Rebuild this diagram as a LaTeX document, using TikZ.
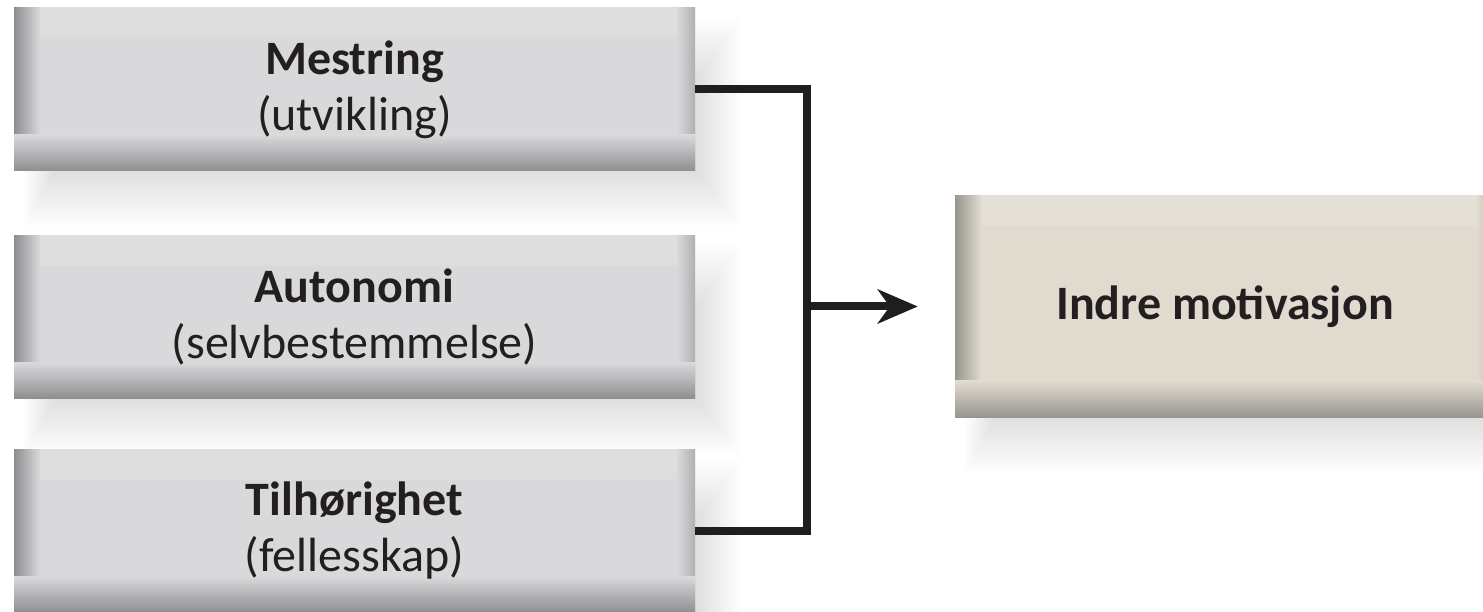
\documentclass[tikz,border=0pt]{standalone}
\usepackage{fontspec}
\setmainfont{Carlito}
\usetikzlibrary{arrows.meta,calc,backgrounds}
\definecolor{boxgray}{HTML}{D9D9DB}
\definecolor{boxgraydark}{HTML}{8E8E90}
\definecolor{boxbeige}{HTML}{E1DBCF}
\definecolor{boxbeigedark}{HTML}{96958F}
\definecolor{linecol}{HTML}{1E1E1E}
\definecolor{textcol}{HTML}{231F20}
\tikzset{
  bevelbox/.style 2 args={
    rectangle, inner sep=0pt, fill=#1, draw=none,
    path picture={
      \shade[top color=white!14!#1, bottom color=#1]
        (path picture bounding box.north west) rectangle ($(path picture bounding box.north east)+(0,-30)$);
      \shade[left color=#2, right color=#1]
        (path picture bounding box.north west) rectangle ($(path picture bounding box.south west)+(26,0)$);
      \shade[left color=#1, right color=#2!55!#1]
        ($(path picture bounding box.north east)+(-18,0)$) rectangle (path picture bounding box.south east);
      \shade[top color=#1, bottom color=#2]
        ($(path picture bounding box.south west)+(0,36)$) rectangle (path picture bounding box.south east);
    },
    font=\fontsize{48}{56}\selectfont, align=center, text=textcol
  },
  leftbox/.style={bevelbox={boxgray}{boxgraydark}, minimum width=681pt, minimum height=163pt},
  rightbox/.style={bevelbox={boxbeige}{boxbeigedark}, minimum width=540pt, minimum height=221pt},
  conn/.style={line width=8pt, draw=linecol},
  shadowlayer/.style={fill=black, opacity=0.009}
}
\newcommand\mysoftshadow[1]{%
  \foreach \i in {0,...,15}{%
    \fill[shadowlayer] ($(#1.south west)+(10+\i*2,-55+\i*3.5)$) rectangle ($(#1.north east)+(45-\i*2.8,-10-\i*4)$);
  }%
}
\begin{document}
\begin{tikzpicture}[x=1pt,y=1pt]
  \useasboundingbox (0,0) rectangle (1483,611);
  \node[leftbox] (b1) at (354.5,521.5) {\textbf{Mestring}\\(utvikling)};
  \node[leftbox] (b2) at (354.5,294) {\textbf{Autonomi}\\(selvbestemmelse)};
  \node[leftbox] (b3) at (354.5,80) {\textbf{Tilhørighet}\\(fellesskap)};
  \node[rightbox] (r) at (1225,304.5) {\textbf{Indre motivasjon}};
  \begin{pgfonlayer}{background}
    \fill[white] (0,0) rectangle (1483,611);
    \mysoftshadow{b1}
    \mysoftshadow{b2}
    \mysoftshadow{b3}
    \mysoftshadow{r}
  \end{pgfonlayer}
  \coordinate (j) at (807,0);
  \coordinate (tip) at ($(r.west)+(-37,0)$);
  \draw[conn] (b1.east) -| (j |- b3.east) -- (b3.east);
  \draw[conn, -{Stealth[length=40pt,width=34pt,inset=12pt]}] (j |- r.west) -- (tip);
\end{tikzpicture}
\end{document}
